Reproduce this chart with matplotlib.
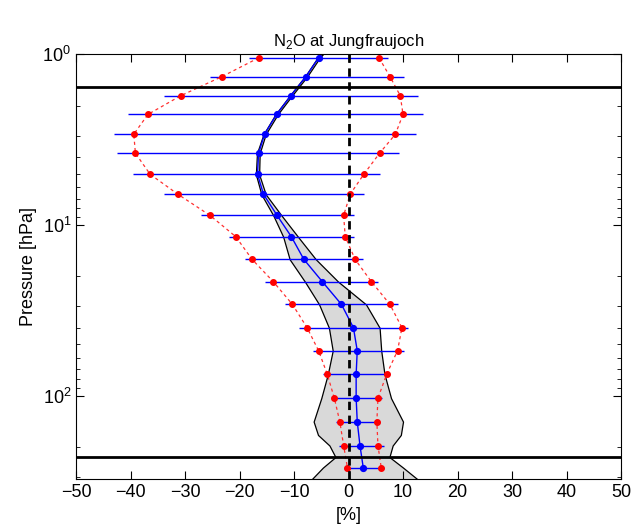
import matplotlib.pyplot as plt

plt.rcParams["font.family"] = ["Liberation Sans", "DejaVu Sans"]
plt.rcParams["mathtext.fontset"] = "custom"
plt.rcParams["mathtext.rm"] = "Liberation Sans"

# retrieval levels [hPa]
pressure = [1.05, 1.35, 1.75, 2.25, 2.94, 3.80, 5.05, 6.61, 8.80, 11.7,
            15.9, 21.5, 29.2, 40.0, 54.5, 74.9, 103.5, 142, 196, 264]
mean_diff = [-5.5, -7.8, -10.6, -13.2, -15.4, -16.5, -16.7, -15.6, -13.1, -10.5,
             -8.2, -4.8, -1.3, 0.9, 1.6, 1.4, 1.4, 1.6, 2.1, 2.7]
bar_lo = [-18.3, -25.5, -33.8, -40.4, -43.0, -42.5, -39.6, -33.8, -27.1, -22.0,
          -19.0, -15.4, -11.7, -9.0, -6.5, -4.7, -3.1, -2.3, -1.8, -0.9]
bar_hi = [7.2, 10.2, 12.8, 13.7, 12.4, 9.3, 5.8, 2.9, 1.0, 1.0,
          2.6, 5.5, 9.1, 10.9, 10.1, 7.7, 6.2, 5.7, 6.6, 6.5]
red_lo = [-16.5, -23.2, -30.8, -36.8, -39.4, -39.1, -36.4, -31.3, -25.4, -20.7,
          -17.7, -13.8, -10.3, -7.6, -5.5, -3.9, -2.6, -1.6, -0.9, -0.2]
red_hi = [5.6, 7.6, 9.5, 10.0, 8.6, 5.7, 2.8, 0.3, -0.9, -0.6,
          1.2, 4.2, 7.6, 9.8, 9.0, 7.0, 5.4, 5.2, 5.4, 6.0]

# grey envelope
band_p = [1.0, 1.05, 1.35, 1.75, 2.25, 2.94, 3.80, 5.05, 6.61, 8.80, 11.7,
          15.9, 21.5, 29.2, 40.0, 54.5, 74.9, 103.5, 142, 170, 196, 229, 264, 310]
band_lo = [-5.1, -5.7, -8.0, -10.8, -13.4, -15.6, -16.8, -17.0, -16.0, -13.8, -12.0,
           -10.8, -8.0, -5.4, -3.6, -2.9, -3.8, -5.0, -6.4, -5.6, -3.5, -2.4, -4.7, -6.8]
band_hi = [-4.7, -5.3, -7.6, -10.4, -13.0, -15.2, -16.3, -16.4, -15.2, -12.3, -9.3,
           -6.0, -1.9, 3.2, 5.7, 6.0, 6.6, 7.8, 10.0, 9.6, 8.1, 7.5, 10.0, 12.7]

layer_limits = [1.555, 229.6]
x_ticks = [-50, -40, -30, -20, -10, 0, 10, 20, 30, 40, 50]

fig = plt.figure(figsize=(6.35, 5.29), dpi=100)
ax = fig.add_axes([0.1197, 0.0936, 0.8583, 0.8038])

ax.fill_betweenx(band_p, band_lo, band_hi, facecolor="#d9d9d9",
                 edgecolor="black", linewidth=0.9, zorder=1)
ax.hlines(pressure, bar_lo, bar_hi, colors="#0000ff", linewidth=1.0, zorder=2)
for red in (red_lo, red_hi):
    ax.plot(red, pressure, color="#ff3030", linewidth=0.9, dashes=(2.5, 2.5),
            marker="o", markersize=4, markerfacecolor="#ff0000",
            markeredgecolor="#ff0000", zorder=3)
ax.plot(mean_diff, pressure, "-", color="#0000ff", linewidth=1.0,
        marker="o", markersize=4.2, zorder=4)
ax.axvline(0, color="black", linestyle=(0, (3, 2)), linewidth=2, zorder=5)
for p in layer_limits:
    ax.axhline(p, color="black", linewidth=2, zorder=5)

ax.set_yscale("log")
ax.set_ylim(310, 1)
ax.set_xlim(-50, 50)
ax.set_xticks(x_ticks)
ax.tick_params(which="both", direction="in", top=True, right=True, labelsize=13)
ax.tick_params(which="major", length=6)
ax.tick_params(which="minor", length=3)
ax.set_title("N$_2$O at Jungfraujoch", fontsize=12)
ax.set_xlabel("[%]", fontsize=13)
ax.set_ylabel("Pressure [hPa]", fontsize=13)

fig.savefig("out.png", dpi=100)
